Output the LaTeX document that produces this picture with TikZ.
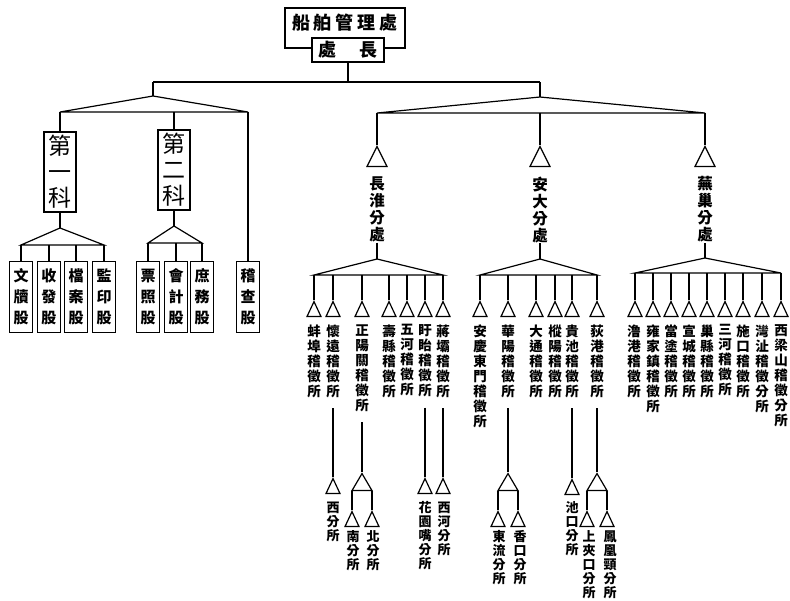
\documentclass[tikz,border=0pt]{standalone}
\usepackage{fontspec}
\newfontfamily\cjk{Noto Sans CJK TC}
\usetikzlibrary{shapes.geometric}

\tikzset{
  box/.style={shape=rectangle, draw, inner sep=0pt, align=center, fill=white},
  sect/.style={box, minimum width=32pt, minimum height=80pt, font=\cjk\fontsize{23}{26}\selectfont},
  unit/.style={box, minimum width=23pt, minimum height=71pt, font=\cjk\bfseries\fontsize{15}{21}\selectfont},
  tri/.style={shape=isosceles triangle, shape border rotate=90, isosceles triangle stretches, draw, inner sep=0pt, minimum width=14pt, minimum height=15pt, anchor=apex},
  bigtri/.style={tri, minimum width=20pt, minimum height=20pt},
  forktri/.style={tri, minimum width=20pt, minimum height=17pt},
  branch/.style={align=center, inner sep=0pt, anchor=north, font=\cjk\bfseries\fontsize{15.5}{17}\selectfont},
  post/.style={align=center, inner sep=0pt, anchor=north, font=\cjk\bfseries\fontsize{13.5}{15}\selectfont},
  subpost/.style={post, font=\cjk\bfseries\fontsize{13}{14}\selectfont},
  feed/.style={shorten <=10pt}
}

\begin{document}
\begin{tikzpicture}[x=1pt, y=-1pt, line width=1.2pt]
  \useasboundingbox (0,0) rectangle (790,600);

  \node[inner sep=0pt, font=\cjk\bfseries\fontsize{18}{18}\selectfont] (office) at (345,23) {船\kern4pt舶\kern4pt管\kern4pt理\kern4pt處};
  \node[box, minimum width=72pt, minimum height=24pt, font=\cjk\bfseries\fontsize{18}{18}\selectfont] (chief) at (348,50) {處\hspace{1.3em}長};
  \coordinate (fnw) at (285,8);
  \coordinate (fse) at (405,48);
  \draw (chief.west |- fse) -| (fnw) -| (fse) -- (chief.east |- fse);

  \coordinate (lhub) at (153,82);
  \coordinate (rhub) at (540,82);
  \draw (chief) -- (chief |- lhub);
  \draw (lhub) -- (rhub);

  % sections
  \coordinate (lapex) at (153,96);
  \coordinate (lleft) at (60,112);
  \coordinate (lright) at (248,112);
  \draw (lhub) -- (lapex);
  \draw (lleft) -- (lapex) -- (lright) -- cycle;

  \node[sect] (sec1) at (60,172) {第\\一\\科};
  \node[sect] (sec2) at (174,170) {第\\二\\科};
  \node[unit] (audit) at (248,297) {稽\\查\\股};
  \draw (lleft) -- (sec1);
  \draw (sec2 |- lleft) -- (sec2);
  \draw (lright) -- (audit);

  \coordinate (s1apex) at (60,228);
  \coordinate (s1left) at (21,245);
  \coordinate (s1right) at (104,245);
  \draw (sec1) -- (s1apex);
  \draw (s1left) -- (s1apex) -- (s1right) -- cycle;
  \node[unit] (u11) at (21,297) {文\\牘\\股};
  \node[unit] (u12) at (49,297) {收\\發\\股};
  \node[unit] (u13) at (76,297) {檔\\案\\股};
  \node[unit] (u14) at (104,297) {監\\印\\股};
  \draw (s1left) -- (u11);
  \draw (u12 |- s1left) -- (u12);
  \draw (u13 |- s1left) -- (u13);
  \draw (s1right) -- (u14);

  \coordinate (s2apex) at (174,226);
  \coordinate (s2left) at (148,243);
  \coordinate (s2right) at (202,243);
  \draw (sec2) -- (s2apex);
  \draw (s2left) -- (s2apex) -- (s2right) -- cycle;
  \node[unit] (u21) at (148,297) {票\\照\\股};
  \node[unit] (u22) at (176,297) {會\\計\\股};
  \node[unit] (u23) at (202,297) {庶\\務\\股};
  \draw (s2left) -- (u21);
  \draw (u22 |- s2left) -- (u22);
  \draw (s2right) -- (u23);

  % branches
  \coordinate (rapex) at (540,97);
  \coordinate (rleft) at (377,113);
  \coordinate (rright) at (705,113);
  \draw (rhub) -- (rapex);
  \draw (rleft) -- (rapex) -- (rright) -- cycle;
  \node[bigtri] (cht) at (377,145) {};
  \node[bigtri] (adt) at (540,145) {};
  \node[bigtri] (wct) at (705,145) {};
  \draw (rleft) -- (cht.apex);
  \draw (adt.apex |- rleft) -- (adt.apex);
  \draw (rright) -- (wct.apex);
  \node[branch] (chl) at (377,176) {長\\淮\\分\\處};
  \node[branch] (adl) at (540,176) {安\\大\\分\\處};
  \node[branch] (wcl) at (705,176) {蕪\\巢\\分\\處};

  % Changhuai
  \coordinate (chapex) at (377,259);
  \coordinate (chleft) at (314,275);
  \coordinate (chright) at (443,275);
  \draw (chl) -- (chapex);
  \draw (chleft) -- (chapex) -- (chright) -- cycle;
  \node[tri] (c1) at (314,300) {};
  \node[tri] (c2) at (333,300) {};
  \node[tri] (c3) at (362,300) {};
  \node[tri] (c4) at (389,300) {};
  \node[tri] (c5) at (407,300) {};
  \node[tri] (c6) at (425,300) {};
  \node[tri] (c7) at (443,300) {};
  \draw (chleft) -- (c1.apex);
  \draw (c2.apex |- chleft) -- (c2.apex);
  \draw (c3.apex |- chleft) -- (c3.apex);
  \draw (c4.apex |- chleft) -- (c4.apex);
  \draw (c5.apex |- chleft) -- (c5.apex);
  \draw (c6.apex |- chleft) -- (c6.apex);
  \draw (chright) -- (c7.apex);
  \node[post] (c1n) at (314,324) {蚌\\埠\\稽\\徵\\所};
  \node[post] (c2n) at (333,324) {懷\\遠\\稽\\徵\\所};
  \node[post] (c3n) at (362,324) {正\\陽\\關\\稽\\徵\\所};
  \node[post] (c4n) at (389,324) {壽\\縣\\稽\\徵\\所};
  \node[post] (c5n) at (407,324) {五\\河\\稽\\徵\\所};
  \node[post] (c6n) at (425,324) {盱\\眙\\稽\\徵\\所};
  \node[post] (c7n) at (443,324) {蔣\\壩\\稽\\徵\\所};

  \node[tri] (c2x) at (333,477) {};
  \node[subpost] (c2xn) at (333,501) {西\\分\\所};
  \draw[feed] (c2n) -- (c2x.apex);
  \node[forktri] (c3x) at (362,472) {};
  \node[tri] (c3a) at (352,510) {};
  \node[tri] (c3b) at (372,510) {};
  \draw[feed] (c3n) -- (c3x.apex);
  \draw (c3x.lower side -| c3a.apex) -- (c3a.apex);
  \draw (c3x.lower side -| c3b.apex) -- (c3b.apex);
  \node[subpost] (c3an) at (353,530) {南\\分\\所};
  \node[subpost] (c3bn) at (373,530) {北\\分\\所};
  \node[tri] (c6x) at (425,477) {};
  \node[subpost] (c6xn) at (425,501) {花\\園\\嘴\\分\\所};
  \draw[feed] (c6n) -- (c6x.apex);
  \node[tri] (c7x) at (443,477) {};
  \node[subpost] (c7xn) at (444,501) {西\\河\\分\\所};
  \draw[feed] (c7n) -- (c7x.apex);

  % Anda
  \coordinate (adapex) at (540,259);
  \coordinate (adleft) at (480,275);
  \coordinate (adright) at (597,275);
  \draw (adl) -- (adapex);
  \draw (adleft) -- (adapex) -- (adright) -- cycle;
  \node[tri] (a1) at (480,300) {};
  \node[tri] (a2) at (508,300) {};
  \node[tri] (a3) at (536,300) {};
  \node[tri] (a4) at (555,300) {};
  \node[tri] (a5) at (572,300) {};
  \node[tri] (a6) at (597,300) {};
  \draw (adleft) -- (a1.apex);
  \draw (a2.apex |- adleft) -- (a2.apex);
  \draw (a3.apex |- adleft) -- (a3.apex);
  \draw (a4.apex |- adleft) -- (a4.apex);
  \draw (a5.apex |- adleft) -- (a5.apex);
  \draw (adright) -- (a6.apex);
  \node[post] (a1n) at (480,324) {安\\慶\\東\\門\\稽\\徵\\所};
  \node[post] (a2n) at (508,324) {華\\陽\\稽\\徵\\所};
  \node[post] (a3n) at (536,324) {大\\通\\稽\\徵\\所};
  \node[post] (a4n) at (555,324) {樅\\陽\\稽\\徵\\所};
  \node[post] (a5n) at (572,324) {貴\\池\\稽\\徵\\所};
  \node[post] (a6n) at (597,324) {荻\\港\\稽\\徵\\所};

  \node[forktri] (a2x) at (508,472) {};
  \node[tri] (a2a) at (498,510) {};
  \node[tri] (a2b) at (518,510) {};
  \draw[feed] (a2n) -- (a2x.apex);
  \draw (a2x.lower side -| a2a.apex) -- (a2a.apex);
  \draw (a2x.lower side -| a2b.apex) -- (a2b.apex);
  \node[subpost] (a2an) at (499,530) {東\\流\\分\\所};
  \node[subpost] (a2bn) at (520,530) {香\\口\\分\\所};
  \node[tri] (a5x) at (572,478) {};
  \node[subpost] (a5xn) at (572,501) {池\\口\\分\\所};
  \draw[feed] (a5n) -- (a5x.apex);
  \node[forktri] (a6x) at (597,472) {};
  \node[tri] (a6a) at (587,510) {};
  \node[tri] (a6b) at (607,510) {};
  \draw[feed] (a6n) -- (a6x.apex);
  \draw (a6x.lower side -| a6a.apex) -- (a6a.apex);
  \draw (a6x.lower side -| a6b.apex) -- (a6b.apex);
  \node[subpost] (a6an) at (589,530) {上\\夾\\口\\分\\所};
  \node[subpost] (a6bn) at (610,530) {鳳\\凰\\頸\\分\\所};

  % Wuchao
  \coordinate (wcapex) at (705,258);
  \coordinate (wcleft) at (635,273);
  \coordinate (wcright) at (781,273);
  \draw (wcl) -- (wcapex);
  \draw (wcleft) -- (wcapex) -- (wcright) -- cycle;
  \node[tri] (w1) at (635,300) {};
  \node[tri] (w2) at (653,300) {};
  \node[tri] (w3) at (671,300) {};
  \node[tri] (w4) at (689,300) {};
  \node[tri] (w5) at (707,300) {};
  \node[tri] (w6) at (725,300) {};
  \node[tri] (w7) at (743,300) {};
  \node[tri] (w8) at (762,300) {};
  \node[tri] (w9) at (781,300) {};
  \draw (wcleft) -- (w1.apex);
  \draw (w2.apex |- wcleft) -- (w2.apex);
  \draw (w3.apex |- wcleft) -- (w3.apex);
  \draw (w4.apex |- wcleft) -- (w4.apex);
  \draw (w5.apex |- wcleft) -- (w5.apex);
  \draw (w6.apex |- wcleft) -- (w6.apex);
  \draw (w7.apex |- wcleft) -- (w7.apex);
  \draw (w8.apex |- wcleft) -- (w8.apex);
  \draw (wcright) -- (w9.apex);
  \node[post] (w1n) at (634,324) {澛\\港\\稽\\徵\\所};
  \node[post] (w2n) at (653,324) {雍\\家\\鎮\\稽\\徵\\所};
  \node[post] (w3n) at (671,324) {當\\塗\\稽\\徵\\所};
  \node[post] (w4n) at (689,324) {宣\\城\\稽\\徵\\所};
  \node[post] (w5n) at (707,324) {巢\\縣\\稽\\徵\\所};
  \node[post] (w6n) at (725,324) {三\\河\\稽\\徵\\所};
  \node[post] (w7n) at (743,324) {施\\口\\稽\\徵\\所};
  \node[post] (w8n) at (762,324) {灣\\沚\\稽\\徵\\分\\所};
  \node[post] (w9n) at (781,324) {西\\梁\\山\\稽\\徵\\分\\所};
\end{tikzpicture}
\end{document}
